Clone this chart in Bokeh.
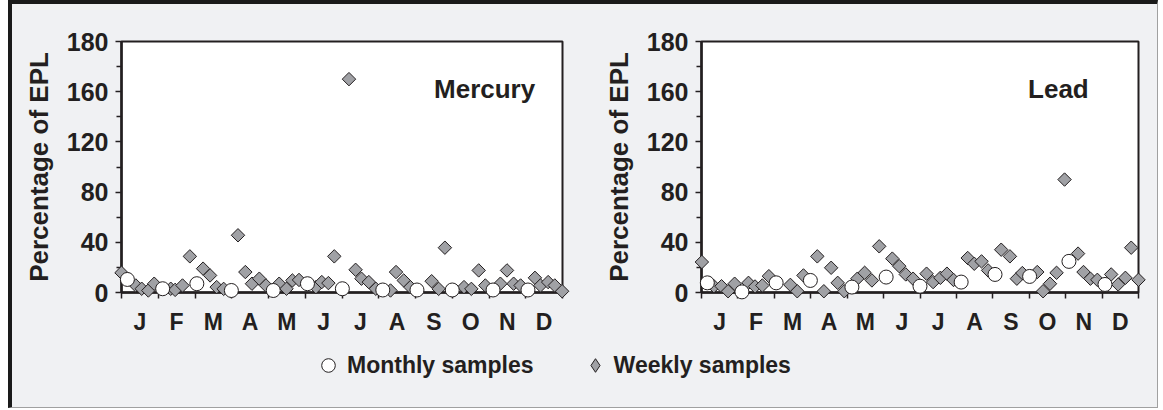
import math
from bokeh.plotting import figure
from bokeh.layouts import column, row
from bokeh.models import FixedTicker, Range1d, Label, Legend, LegendItem
from bokeh.embed import file_html
from bokeh.resources import INLINE

# ---------------- data ----------------
month_labels = ["J", "F", "M", "A", "M", "J", "J", "A", "S", "O", "N", "D"]
y_ticks = [0, 40, 80, 120, 160, 200]
y_tick_labels = ["0", "40", "80", "120", "160", "180"]
y_minor_ticks = [20, 60, 100, 140, 180]

# Mercury (x = time in months from 1 Jan, y = percentage of EPL)
hg_weekly_x = [0.0, 0.39, 0.55, 0.73, 0.89, 1.34, 1.46, 1.66, 1.86, 2.22, 2.41, 2.59, 2.78,
               3.17, 3.37, 3.55, 3.75, 3.93, 4.29, 4.49, 4.65, 4.83, 5.29, 5.45, 5.63, 5.79,
               6.19, 6.37, 6.53, 6.73, 6.92, 7.32, 7.47, 7.68, 7.86, 8.44, 8.63, 8.80, 9.32,
               9.52, 9.72, 9.90, 10.31, 10.49, 10.67, 10.86, 11.25, 11.40, 11.61, 11.79, 11.99]
hg_weekly_y = [15.7, 5.6, 3.0, 1.6, 7.0, 3.0, 2.1, 5.6, 28.8, 19.0, 13.6, 4.3, 2.9,
               45.6, 16.3, 7.0, 11.0, 5.6, 7.0, 3.0, 9.6, 10.0, 4.3, 8.3, 7.5, 28.8,
               170.0, 18.1, 11.0, 8.3, 3.0, 1.6, 16.3, 9.6, 4.3, 9.0, 2.9, 35.7, 4.3,
               2.9, 17.6, 5.6, 7.0, 17.6, 7.0, 5.6, 11.7, 5.6, 8.3, 5.6, 1.0]
hg_monthly_x = [0.16, 1.12, 2.05, 2.99, 4.13, 5.06, 6.01, 7.11, 8.04, 9.00, 10.11, 11.06]
hg_monthly_y = [10.4, 3.0, 7.0, 1.6, 1.6, 7.0, 3.0, 2.0, 2.0, 2.0, 2.0, 2.0]

# Lead
pb_weekly_x = [0.01, 0.34, 0.55, 0.73, 0.91, 1.29, 1.47, 1.67, 1.85, 2.44, 2.63, 2.80,
               3.18, 3.36, 3.56, 3.74, 3.92, 4.28, 4.48, 4.68, 4.88, 5.24, 5.43, 5.61,
               5.81, 6.18, 6.36, 6.56, 6.74, 6.92, 7.31, 7.49, 7.69, 7.87, 8.23, 8.47,
               8.66, 8.81, 9.22, 9.38, 9.57, 9.75, 9.97, 10.34, 10.49, 10.68, 10.87,
               11.25, 11.44, 11.64, 11.80, 12.0]
pb_weekly_y = [24.3, 5.0, 5.0, 1.0, 7.0, 7.7, 4.8, 5.6, 13.0, 6.1, 1.0, 13.6,
               28.8, 1.0, 19.7, 7.7, 1.0, 11.0, 15.7, 9.6, 36.8, 27.0, 21.0, 14.4,
               11.0, 15.0, 8.3, 11.7, 15.0, 10.0, 27.5, 22.9, 24.8, 17.6, 34.1, 28.8,
               11.0, 15.5, 16.3, 1.0, 7.0, 15.7, 90.0, 31.0, 16.3, 11.0, 10.1,
               14.4, 6.4, 11.7, 35.7, 10.1]
pb_monthly_x = [0.16, 1.11, 2.05, 2.99, 4.13, 5.07, 6.00, 7.13, 8.06, 9.01, 10.09, 11.08]
pb_monthly_y = [7.7, 0.5, 7.7, 9.6, 4.3, 12.3, 5.0, 8.3, 14.4, 12.8, 24.8, 6.4]

# ---------------- style ----------------
FONT = "Liberation Sans"
INK = "#231f20"
BG = "#f0f1f3"
DIAMOND_FILL = "#a0a1a5"


def make_panel(wx, wy, mx, my, name, name_x, name_y, width, left, right):
    p = figure(width=width, height=336, x_range=Range1d(0, 12), y_range=Range1d(0, 200),
               output_backend="svg", toolbar_location=None,
               min_border_left=left, min_border_right=right,
               min_border_top=37, min_border_bottom=48)
    p.background_fill_color = "white"
    p.border_fill_color = BG
    p.outline_line_color = INK
    p.outline_line_width = 2
    p.xgrid.visible = False
    p.ygrid.visible = False

    xa = p.xaxis[0]
    xa.ticker = FixedTicker(ticks=[i + 0.5 for i in range(12)], minor_ticks=list(range(13)))
    xa.major_label_overrides = {i + 0.5: m for i, m in enumerate(month_labels)}
    xa.major_tick_out = 0
    xa.major_tick_in = 0
    xa.minor_tick_out = 6
    xa.minor_tick_in = 0
    xa.minor_tick_line_color = INK
    xa.minor_tick_line_width = 1.5
    xa.axis_line_color = INK
    xa.axis_line_width = 2.5
    xa.major_label_standoff = 10
    xa.major_label_text_font = FONT
    xa.major_label_text_font_style = "bold"
    xa.major_label_text_font_size = "23px"
    xa.major_label_text_color = INK

    ya = p.yaxis[0]
    ya.ticker = FixedTicker(ticks=y_ticks, minor_ticks=y_minor_ticks)
    ya.major_label_overrides = {t: s for t, s in zip(y_ticks, y_tick_labels)}
    ya.major_tick_out = 6
    ya.major_tick_in = 0
    ya.minor_tick_out = 5
    ya.minor_tick_in = 0
    ya.major_tick_line_color = INK
    ya.minor_tick_line_color = INK
    ya.major_tick_line_width = 1.5
    ya.minor_tick_line_width = 1.5
    ya.axis_line_color = INK
    ya.axis_line_width = 2.5
    ya.major_label_standoff = 7
    ya.major_label_text_font = FONT
    ya.major_label_text_font_style = "bold"
    ya.major_label_text_font_size = "25px"
    ya.major_label_text_color = INK
    ya.axis_label = "Percentage of EPL"
    ya.axis_label_text_font = FONT
    ya.axis_label_text_font_style = "bold"
    ya.axis_label_text_font_size = "26px"
    ya.axis_label_text_color = INK
    ya.axis_label_standoff = 10

    p.scatter(wx, wy, marker="square", size=9.5, angle=math.pi / 4,
              fill_color=DIAMOND_FILL, line_color=INK, line_width=1, level="overlay")
    p.scatter(mx, my, marker="circle", size=14,
              fill_color="white", line_color=INK, line_width=1, level="overlay")

    p.add_layout(Label(x=name_x, y=name_y, text=name, text_align="center",
                       text_baseline="middle", text_font=FONT, text_font_style="bold",
                       text_font_size="26px", text_color=INK))
    return p


p1 = make_panel(hg_weekly_x, hg_weekly_y, hg_monthly_x, hg_monthly_y,
                "Mercury", 9.88, 162, 588, 109, 38)
p2 = make_panel(pb_weekly_x, pb_weekly_y, pb_monthly_x, pb_monthly_y,
                "Lead", 9.8, 162, 557, 93, 19)

# legend strip: proxy renderers (hidden) carry the series' styles into the legend
p3 = figure(width=1145, height=67, output_backend="svg", toolbar_location=None,
            x_axis_type=None, y_axis_type=None, min_border=0,
            x_range=Range1d(0, 12), y_range=Range1d(0, 200))
p3.background_fill_color = BG
p3.border_fill_color = BG
p3.outline_line_color = None
p3.xgrid.visible = False
p3.ygrid.visible = False
r_month = p3.scatter(hg_monthly_x, hg_monthly_y, marker="circle", fill_color="white",
                     line_color=INK, line_width=1, visible=False)
r_week = p3.scatter(hg_weekly_x, hg_weekly_y, marker="diamond",
                    fill_color=DIAMOND_FILL, line_color=INK, line_width=1, visible=False)
legend = Legend(items=[LegendItem(label="Monthly samples", renderers=[r_month]),
                       LegendItem(label="Weekly samples", renderers=[r_week])],
                orientation="horizontal", location=(299, 25),
                padding=0, margin=0, spacing=44, label_standoff=2,
                glyph_width=34, glyph_height=34,
                border_line_color=None, background_fill_alpha=0,
                inactive_fill_alpha=0,
                label_text_font=FONT, label_text_font_style="bold",
                label_text_font_size="23px", label_text_color=INK)
p3.add_layout(legend, "center")

layout = column(row(p1, p2), p3,
                styles={"background-color": BG,
                        "margin-left": "8px",
                        "border-left": "4px solid #1a1a1a",
                        "border-top": "4px solid #1a1a1a",
                        "border-right": "1px solid #a0a0a0",
                        "border-bottom": "1px solid #a0a0a0"})

open("out.html", "w").write(file_html(layout, INLINE))
